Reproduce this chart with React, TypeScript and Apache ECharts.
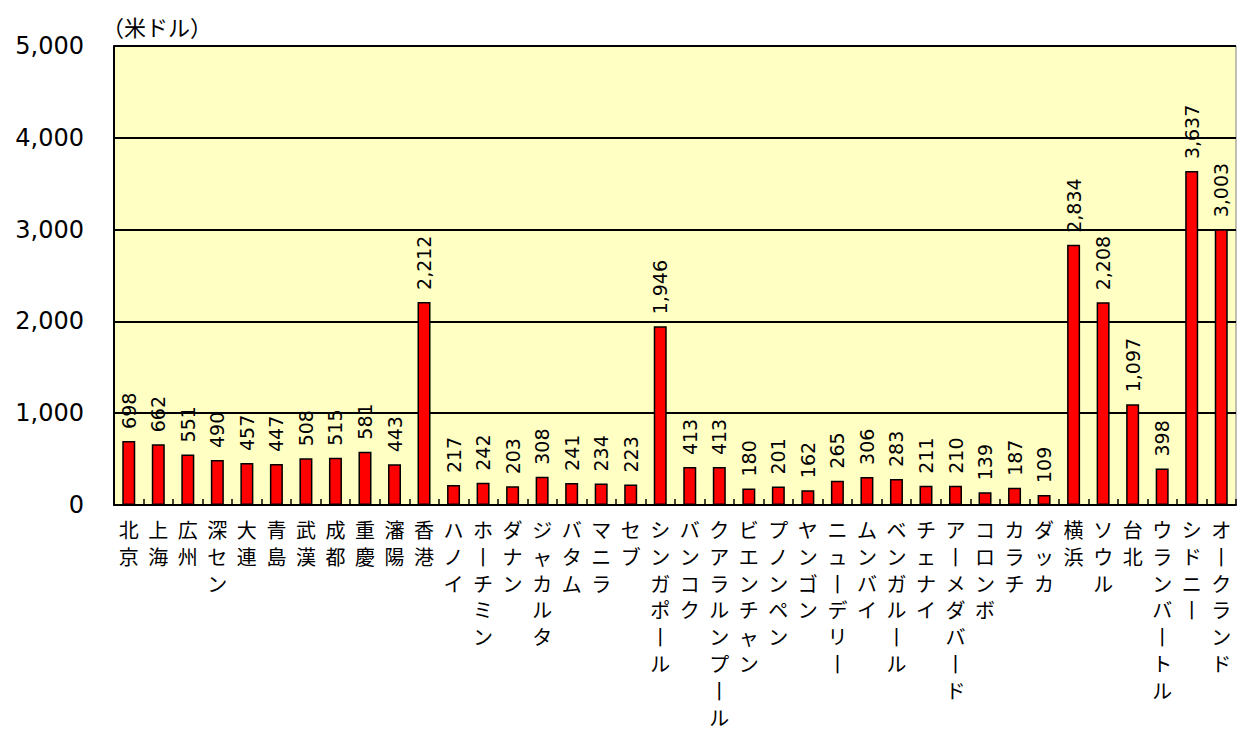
import React, { useEffect, useRef } from "react";
import * as echarts from "echarts";

const categories = [
  "北京", "上海", "広州", "深セン", "大連", "青島", "武漢", "成都", "重慶", "瀋陽", "香港",
  "ハノイ", "ホーチミン", "ダナン", "ジャカルタ", "バタム", "マニラ", "セブ", "シンガポール",
  "バンコク", "クアラルンプール", "ビエンチャン", "プノンペン", "ヤンゴン", "ニューデリー",
  "ムンバイ", "ベンガルール", "チェナイ", "アーメダバード", "コロンボ", "カラチ", "ダッカ",
  "横浜", "ソウル", "台北", "ウランバートル", "シドニー", "オークランド",
];

const values = [
  698, 662, 551, 490, 457, 447, 508, 515, 581, 443, 2212,
  217, 242, 203, 308, 241, 234, 223, 1946,
  413, 413, 180, 201, 162, 265,
  306, 283, 211, 210, 139, 187, 109,
  2834, 2208, 1097, 398, 3637, 3003,
];

const unitLabel = "（米ドル）";
const yMin = 0;
const yMax = 5000;
const yInterval = 1000;

const numFont = "'DejaVu Sans', Verdana, sans-serif";
const cjkFont = "'Noto Sans CJK JP', sans-serif";

function verticalize(s: string): string {
  return s
    .split("")
    .map((c) => (c === "ー" ? "丨" : c))
    .join("\n");
}

export default function App() {
  const ref = useRef<HTMLDivElement>(null);
  useEffect(() => {
    if (!ref.current) return;
    const chart = echarts.init(ref.current, null, { renderer: "svg" });
    chart.setOption({
      animation: false,
      backgroundColor: "#ffffff",
      grid: {
        left: 114,
        right: 1,
        top: 46,
        bottom: 227,
        containLabel: false,
        outerBoundsMode: "none",
        show: true,
        backgroundColor: "#FFFFC4",
        borderColor: "#808080",
        borderWidth: 1,
      },
      graphic: [
        {
          type: "text",
          left: 102,
          top: 15,
          style: { text: unitLabel, fontSize: 22, fontFamily: cjkFont, fill: "#000" },
        },
      ],
      xAxis: {
        type: "category",
        data: categories,
        axisLine: { lineStyle: { color: "#000", width: 2 } },
        axisTick: { show: true, inside: true, length: 6, lineStyle: { color: "#000", width: 1.5 } },
        axisLabel: {
          interval: 0,
          margin: 11,
          fontSize: 20,
          lineHeight: 26.8,
          fontFamily: cjkFont,
          color: "#000",
          verticalAlign: "top",
          formatter: (v: string) => verticalize(v),
        },
      },
      yAxis: {
        type: "value",
        min: yMin,
        max: yMax,
        interval: yInterval,
        axisLine: { show: true, lineStyle: { color: "#000", width: 2 } },
        axisTick: { show: false },
        splitLine: { show: true, lineStyle: { color: "#000", width: 2 } },
        axisLabel: {
          margin: 30,
          fontSize: 24,
          fontFamily: numFont,
          color: "#000",
          formatter: (v: number) => v.toLocaleString("en-US"),
        },
      },
      series: [
        {
          type: "bar",
          data: values,
          barWidth: 13,
          itemStyle: { color: "#FF0000", borderColor: "#000", borderWidth: 1.5 },
          label: {
            show: true,
            position: "top",
            rotate: 90,
            align: "left",
            verticalAlign: "middle",
            distance: 12,
            fontSize: 19,
            fontFamily: numFont,
            color: "#000",
            formatter: (p: any) => Number(p.value).toLocaleString("en-US"),
          },
        },
      ],
    });
    return () => chart.dispose();
  }, []);
  return (
    <div
      ref={ref}
      style={{ position: "absolute", left: 0, top: 0, width: 1237, height: 732 }}
    />
  );
}
